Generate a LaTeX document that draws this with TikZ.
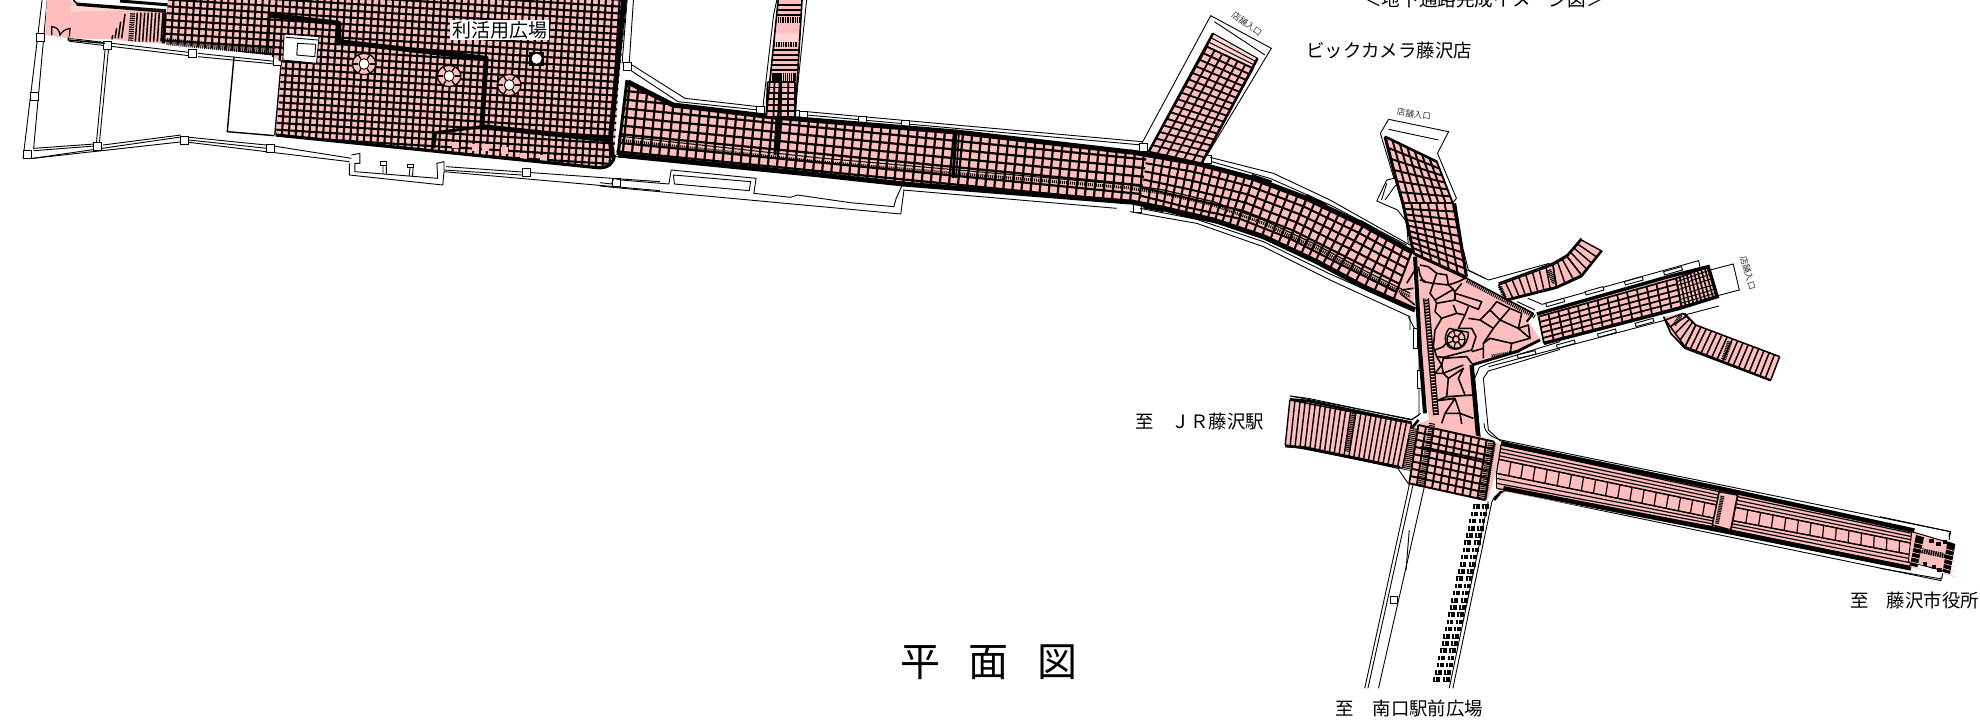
\documentclass[tikz,border=0pt]{standalone}
\usepackage{fontspec}
\usetikzlibrary{calc}
\newfontfamily\jp{Noto Sans CJK JP}
\definecolor{pk}{HTML}{FFBEBE}
\definecolor{pkl}{HTML}{FFD6D6}
\tikzset{
 wall/.style={draw=black,line width=0.9pt,line join=miter},
 heavy/.style={draw=black,line width=5pt,line join=round},
 stone/.style={draw=black,line width=1.55pt,line join=round},
 za/.style={shift={(0,0)},x=0.42088pt,y=-0.33333pt},
 zb/.style={shift={(600,0)},x=0.45918pt,y=-0.33333pt},
 zc/.style={shift={(1260,90)},x=0.35714pt,y=-0.33333pt},
 zd/.style={shift={(1260,390)},x=0.45918pt,y=-0.33333pt},
 ze/.style={shift={(1400,250)},x=0.33333pt,y=-0.33333pt},
 zf/.style={shift={(1880,510)},x=0.33333pt,y=-0.33333pt},
 zg/.style={shift={(1130,130)},x=0.33333pt,y=-0.33333pt},
 zh/.style={shift={(30,0)},x=0.33333pt,y=-0.33333pt},
 lab/.style={font=\jp\fontsize{18.4}{20}\selectfont,inner sep=0pt,anchor=center},
 small/.style={font=\jp\fontsize{8.6}{9}\selectfont,inner sep=0pt,text=black!80},
}
\def\qstart{0}
\newcommand\qgrid[7]{%
 \foreach \qi in {\qstart,...,#5}{\pgfmathsetmacro\qt{\qi/#5}\draw[line width=#7] ($(#1)!\qt!(#2)$) -- ($(#4)!\qt!(#3)$);}%
 \foreach \qj in {0,...,#6}{\pgfmathsetmacro\qs{\qj/#6}\draw[line width=#7] ($(#1)!\qs!(#4)$) -- ($(#2)!\qs!(#3)$);}%
}
\newcommand\pil[1]{\draw[wall,fill=white] ($(#1)+(-4pt,-4pt)$) rectangle ($(#1)+(4pt,4pt)$);}
\begin{document}
\begin{tikzpicture}[x=1pt,y=-1pt]
\useasboundingbox (0,0) rectangle (1980,720);
% ---------- left rooms, plaza walls
\begin{scope}[za]
 \draw[wall] (100,0)--(55,472)--(78,475)--(435,410)--(640,436)--(835,475);
 \draw[wall] (112,0)--(80,445)--(225,432);
 \draw[wall] (80,452)--(225,438) (245,435)--(430,405) (448,420)--(635,445);
 \draw[wall] (78,475)--(435,425)--(830,485);
 \draw[wall] (250,145)--(229,430) (258,145)--(236,430);
 \draw[wall,line width=1.4pt] (556,170)--(540,395)--(652,407);
 \draw[wall,line width=1.4pt] (668,190)--(653,405);
 \draw[wall] (165,115)--(455,158) (165,124)--(455,168) (470,160)--(660,185) (470,170)--(660,193);
 \draw[wall] (835,465)--(855,460)--(855,490)--(843,490)--(843,515)--(1040,535)--(1038,490)--(1055,485)--(1055,510)--(1240,525);
 \draw[wall] (830,490)--(830,525)--(1052,555)--(1055,515)--(1568,572);
 \draw[wall] (1060,500)--(1568,545);
 \draw[wall] (910,488)--(910,522) (918,488)--(918,522) (975,495)--(972,528) (982,495)--(980,528);
 \draw[wall,fill=white] (905,485) rectangle (918,495) (968,492) rectangle (982,502);
 \draw[wall] (1505,0)--(1495,190) (1490,0)--(1478,190);
 \pil{95,112}\pil{82,290}\pil{65,462}\pil{255,136}\pil{458,160}\pil{660,184}\pil{232,440}\pil{438,420}\pil{642,445}\pil{1250,518}\pil{1465,548}
\end{scope}
% ---------- corridor walls
\begin{scope}[zb]
 \draw[wall] (70,195)--(185,295)--(345,320) (60,205)--(170,305)--(345,330);
 \draw[wall] (450,335)--(1180,425) (450,345)--(1180,435);
 \draw[wall] (35,470)--(480,520) (520,530)--(1125,600);
 \draw[wall] (660,570)--(1125,625);
 \draw[wall] (155,510)--(150,552)--(45,540)--(30,535)--(25,552)--(0,548);
 \draw[wall] (155,510)--(340,535)--(335,580)--(415,592)--(430,585)--(545,608)--(640,620)--(645,595)--(660,550);
 \draw[wall] (160,525)--(328,545)--(325,572)--(162,552)--cycle;
 \draw[wall] (0,558)--(50,565)--(655,642)--(662,570);
 % north stub
 \draw[wall] (385,0)--(378,45)--(355,320) (450,0)--(425,330);
 % store branch walls
 \draw[wall] (1180,430)--(1330,47)--(1462,145)--(1320,470);
 \draw[wall] (1338,65)--(1448,165);
 \pil{60,200}\pil{350,332}\pil{426,342}\pil{442,345}\pil{572,361}\pil{665,373}\pil{1183,441}\pil{1322,478}\pil{1170,625}
\end{scope}
% ---------- curved walls
\begin{scope}[zg]
 \draw[wall] (240,82)--(430,130)--(600,210)--(840,345);
 \draw[wall] (245,95)--(420,145)--(600,225)--(830,345);
 \draw[wall] (0,245)--(200,280)--(400,350)--(600,450)--(840,560)--(840,600);
 \draw[wall] (30,235)--(200,268)--(400,335)--(600,432)--(855,545);
\end{scope}
% ---------- right walls
\begin{scope}[zc]
 \draw[wall] (445,700)--(445,975)--(425,988)--(85,918);
 \draw[wall] (415,680)--(435,720)--(445,720);
 \draw[wall,fill=white] (430,715) rectangle (440,775) (442,840) rectangle (452,895);
 \draw[wall] (360,88)--(528,125)--(497,190)--(550,325)--(540,338);
 \draw[wall] (360,88)--(337,130)--(375,265)--(355,270)--(327,333)--(385,360)--(410,395)--(415,460);
 \draw[wall] (360,118)--(500,150);
 \draw[wall] (355,280)--(340,330) (350,330)--(380,285);
 \draw[wall] (580,540)--(640,570)--(810,520);
 \draw[wall] (750,625)--(790,643)--(1228,512)--(1232,530);
 \draw[wall] (1260,540)--(1325,522)--(1342,600)--(1278,618);
 \draw[wall] (720,635)--(770,660);
 \draw[wall] (640,830)--(1285,648);
 \draw[wall] (600,825)--(640,812) ;
 \draw[wall] (1135,690)--(1160,740)--(1195,775) (1190,670)--(1225,710)--(1455,800);
\end{scope}
\begin{scope}[ze]
 \draw[wall] (480,275)--(360,312)--(262,342)--(238,352)--(224,385)--(240,560)--(272,592)--(480,645);
 \draw[wall] (480,298)--(360,335)--(265,363)--(250,385)--(265,540)--(300,572)--(480,622);
 \draw[wall] (190,0)--(205,60)--(255,85);
\end{scope}
% ---------- pink entry
\begin{scope}[zh]
 \fill[pk] (50,0)--(45,105)--(115,115)--(250,118)--(300,125)--(405,132)--(410,35)--(135,12)--(120,0)--cycle;
 \fill[pkl] (122,15)--(300,30)--(122,35)--cycle;
 \draw[line width=1.2pt] (65,105)--(65,80) .. controls (80,80) and (88,90) .. (90,105) .. controls (95,95) and (105,88) .. (120,85)--(118,110);
 \draw[line width=1.5pt] (285,42)--(275,115) (272,65)--(265,115) (260,85)--(255,115) (248,105)--(246,118);
 \draw[line width=5pt,dash pattern=on 1.2pt off 1pt] (308,40)--(302,122);
 \foreach \k in {0,...,7}{\draw[line width=1.5pt] ({322+\k*11},38)--({316+\k*11},125);}
 \draw[line width=1.6pt] (130,0)--(140,10)--(405,30)--(405,38) (140,15)--(405,36);
 \draw[line width=3pt] (270,3)--(420,15);
 \draw[line width=1.4pt] (115,112)--(115,120)--(225,130);
\end{scope}
% ---------- plaza
\begin{scope}
 \fill[pk] (168,0)--(627,0)--(619,80)--(614,157)..controls(614,165)and(608,168)..(602,168)--(276,135)--(282,62)--(269,55)--(164,43)--cycle;
 \clip (168,0)--(627,0)--(619,80)--(614,157)..controls(614,165)and(608,168)..(602,168)--(276,135)--(282,62)--(269,55)--(164,43)--cycle;
 \begin{scope}[rotate around={-3.5:(400,0)}]
  \foreach \i in {-35,...,40}{\draw[line width=2.1pt] ({400+\i*6.85},-40)--({400+\i*6.85},220);}
  \foreach \j in {-5,...,32}{\draw[line width=2.1pt] (100,{\j*6.85})--(680,{\j*6.85});}
 \end{scope}
\end{scope}
\begin{scope}[zh]
 \draw[line width=7pt,dash pattern=on 1pt off 1pt] (410,125)--(725,155);
 \draw[line width=3pt] (405,38)--(400,130);
\end{scope}
\begin{scope}[za]
 \foreach \xx/\yy in {1075/425,1122/432,1146/433,1190/442,1236/458,1283/465}{\fill[pk] (\xx,\yy) rectangle +(16,20);}
 \draw[heavy] (640,45)--(805,70)--(805,125)--(1155,175)--(1145,380)--(1450,420);
 \draw[heavy,line width=3pt] (640,45)--(635,150);
 \draw[heavy,line width=3pt] (1035,398)--(1030,445);
 \draw[heavy,line width=3pt] (1035,398)--(1145,380);
 \draw[heavy] (1482,0)--(1450,420)--(1455,470);
 \draw[heavy,line width=3.2pt] (655,405)--(1420,503) .. controls (1445,505) and (1458,490) .. (1460,465);
 % column
 \fill[white] (675,102)--(758,110)--(752,190)--(672,180)--cycle;
 \draw[wall] (675,102)--(758,110)--(752,190)--(672,180)--cycle (707,130)--(750,133)--(748,170)--(705,165)--cycle (680,112)--(755,120);
 % tree pits
 \foreach \cx/\cy in {865/192,1067/228,1210/255}{
  \fill[pk,draw=black,line width=1.3pt] (\cx,\cy) ellipse [x radius=28,y radius=32];
  \foreach \ang in {0,60,...,300}{\draw[line width=1.3pt] ($(\cx,\cy)+({14*cos(\ang)},{16*sin(\ang)})$)--($(\cx,\cy)+({28*cos(\ang)},{32*sin(\ang)})$);}
  \fill[white,draw=black,line width=0.9pt] (\cx,\cy) ellipse [x radius=12,y radius=16];
 }
 \fill[black] (1258,155) rectangle (1292,198);
 \fill[white] (1275,176) ellipse [x radius=12,y radius=15];
\end{scope}
% ---------- corridor
\fill[pk] (628,80)--(673,105)--(774,117)--(956,132)--(1147,155)--(1197,163.5)--(1253,178)--(1307,198)--(1363,225)--(1412,252)--(1415,312)--(1363,287)--(1287,247)--(1237,227)--(1185,216)--(1140,204)--(1119,200)--(903,183)--(820,173)--(616,155)--cycle;
\begin{scope}
 \clip (628,80)--(673,105)--(774,117)--(956,132)--(1147,155)--(1140,204)--(1119,200)--(903,183)--(820,173)--(616,155)--cycle;
 \begin{scope}[rotate around={-5.6:(628,100)}]
  \foreach \i in {-3,...,62}{\draw[line width=2.2pt] ({628+\i*9.1},0)--({628+\i*9.1},280);}
  \foreach \j in {-6,...,8}{\draw[line width=2.2pt] (600,{100+\j*8.7})--(1200,{100+\j*8.7});}
 \end{scope}
\end{scope}
\begin{scope}[zg]
 \begingroup\def\qstart{1}
 \qgrid{50,75}{200,100}{165,258}{30,222}{6}{6}{2pt}
 \endgroup
 \qgrid{200,100}{370,145}{320,290}{165,258}{7}{6}{2pt}
 \qgrid{370,145}{530,205}{470,350}{320,290}{6}{6}{2pt}
 \qgrid{530,205}{700,285}{620,428}{470,350}{7}{6}{2pt}
 \qgrid{700,285}{845,365}{790,510}{620,428}{6}{6}{2pt}
 \draw[heavy] (0,65)--(200,100)--(370,145)--(530,205)--(700,285)--(848,367);
 \draw[heavy] (0,215)--(100,235)--(250,270)--(400,320)--(560,395)--(700,470)--(855,540);
 \draw[line width=3pt,dash pattern=on 1pt off 1pt] (0,175)--(100,190)--(250,225)--(400,280)--(560,355)--(700,430)--(840,500);
 \draw[line width=1.2pt] (0,165)--(100,180)--(250,215)--(400,270)--(560,345)--(700,420)--(840,490);
 \draw[line width=2.2pt] (365,135)--(425,155) (530,195)--(590,225) (690,272)--(740,300);
 \draw[line width=2.2pt] (40,232)--(100,243) (180,258)--(240,272) (315,292)--(378,316) (605,420)--(665,452);
\end{scope}
\draw[heavy] (628,82)--(673,105)--(774,117)--(956,132)--(1130,152);
\draw[heavy] (618,155)--(820,175)--(903,184)--(1130,202);
\draw[line width=3pt,dash pattern=on 1pt off 1pt] (618,140)--(820,162)--(1130,188);
\draw[line width=1pt] (618,136)--(820,158)--(1130,185);
\draw[line width=3pt] (627,80)--(618,155) (777,117)--(775,155) (956,132)--(953,178);
\draw[line width=1.6pt] (780,117)--(778,155) (959,132)--(956,178);
% north stub
\begin{scope}[zb]
 \fill[pk] (388,0)--(440,0)--(425,350)--(362,350)--cycle;
 \fill[pkl] (380,100)--(432,100)--(430,130)--(378,125)--cycle;
 \foreach \yy in {15,30,45,150,165,180,195,210}{\draw[line width=1.4pt] ({388-\yy*0.07},\yy)--({440-\yy*0.045},\yy);}
 \draw[line width=5pt,dash pattern=on 1pt off .7pt] (388,60)--(436,60) (376,135)--(430,135);
 \draw[line width=8pt,dash pattern=on 1.5pt off .6pt] (370,232)--(425,232);
 \qgrid{365,245}{425,245}{425,350}{362,350}{4}{6}{1.7pt}
 \draw[line width=2.4pt] (392,245)--(385,450);
 \draw[line width=1.6pt] (388,0)--(362,350) (440,0)--(425,350);
\end{scope}
% store branch
\begin{scope}[zb]
 \fill[pk] (1335,100)--(1432,175)--(1310,490)--(1195,455)--cycle;
 \fill[pkl] (1335,105)--(1430,175)--(1422,200)--(1322,138)--cycle;
 \qgrid{1322,140}{1422,205}{1310,490}{1195,455}{6}{16}{1.8pt}
 \qgrid{1335,100}{1432,175}{1422,205}{1322,140}{1}{3}{1pt}
 \draw[line width=2.4pt] (1335,100)--(1195,455) (1432,175)--(1310,490);
\end{scope}
% Y plaza
\begin{scope}[ze]
 \fill[pk] (45,18)--(200,85)--(400,190)--(385,215)--(422,268)--(350,305)--(215,345)--(240,585)--(90,540)--(62,300)--cycle;
 \draw[stone] (55,50)--(60,75)--(70,95)--(100,100)--(110,70)--(85,50)--(60,45);
 \draw[stone] (100,100)--(145,105)--(140,75)--(110,70);
 \draw[stone] (145,105)--(175,95)--(195,85);
 \draw[stone] (100,100)--(90,130)--(105,150)--(160,118)--(145,105);
 \draw[stone] (60,90)--(75,92);
 \draw[stone] (160,118)--(165,130)--(245,155)--(235,178)--(165,150)--(165,130);
 \draw[stone] (185,100)--(165,125);
 \draw[stone] (165,150)--(110,160)--(105,150);
 \draw[stone] (110,160)--(105,185)--(125,205)--(105,240)--(100,290)--(110,320);
 \draw[stone] (125,205)--(170,190)--(195,195)--(205,170);
 \draw[stone] (160,165)--(170,190);
 \draw[stone] (195,195)--(175,235)--(215,235)--(228,260)--(215,300)--(130,322)--(110,320);
 \draw[stone] (205,205)--(240,210)--(270,180)--(290,155)--(330,175)--(365,190);
 \draw[stone] (270,180)--(300,210)--(330,175) (240,210)--(280,235)--(300,210)--(355,235)--(365,190);
 \draw[stone] (280,235)--(250,280) (355,235)--(385,225)--(390,265)--(355,235);
 \draw[stone] (390,265)--(335,280)--(270,265)--(250,280)--(250,325);
 \draw[stone] (335,280)--(330,310) (250,295)--(215,305);
 \draw[stone] (105,300)--(130,290)--(145,270);
 \draw[stone] (130,325)--(200,320)--(215,340);
 \draw[stone] (110,320)--(125,345)--(105,370)--(130,370)--(145,385)--(140,440)--(115,450);
 \draw[stone] (130,325)--(125,345)--(130,370)--(190,345);
 \draw[stone] (145,385)--(190,355)--(175,385)--(195,435);
 \draw[stone] (140,440)--(218,435);
 \draw[line width=1.8pt] (110,452)--(165,445);
 \draw[stone] (165,445)--(135,490)--(180,490)--(220,505) (135,490)--(125,520) (165,445)--(180,490)--(185,522);
 % medallion
 \draw[line width=1.4pt,fill=pk] (147,235) -- (205,247) .. controls (205,290) and (170,310) .. (145,290) .. controls (130,275) and (135,250) .. (147,235);
 \draw[line width=1.4pt] (168,268) circle [radius=10];
 \draw[line width=1.4pt] (168,268) circle [radius=27];
 \foreach \ang in {0,51,...,310}{\draw[line width=1.2pt] ($(168,268)+({10*cos(\ang)},{10*sin(\ang)})$)--($(168,268)+({27*cos(\ang)},{27*sin(\ang)})$);}
 % road lines
 \draw[line width=4pt] (45,20)--(60,300)--(75,490);
 \draw[line width=6pt] (78,145)--(108,495);
 \draw[line width=3.6pt,pk,dash pattern=on 1.2pt off 1.8pt] (78,145)--(108,495);
 \draw[line width=4.4pt] (215,345)--(235,565);
 \draw[line width=2.8pt] (420,270)--(350,305)--(215,345);
 \draw[line width=1.5pt] (45,15)--(200,85)--(400,190);
 \draw[line width=4pt,dash pattern=on 1pt off 1pt] (200,92)--(405,200);
 \draw[line width=3pt,dash pattern=on 1pt off 1pt] (275,318)--(360,303);
 \draw[line width=2pt] (380,215)--(400,190);
 \draw[stone] (0,130)--(45,165) (20,100)--(45,60) (5,120)--(40,115);
\end{scope}
% store 2
\begin{scope}[zc]
 \fill[pk] (350,140)--(495,215)--(540,340)--(578,560)--(430,490)--(400,340)--(380,265)--cycle;
 \qgrid{350,140}{495,215}{540,340}{400,340}{7}{6}{1.9pt}
 \qgrid{400,340}{540,340}{578,560}{430,490}{6}{9}{1.9pt}
 \draw[line width=3pt] (350,140)--(380,265)--(400,340)--(430,490) (545,340)--(578,560);
 \draw[line width=2.4pt] (350,140)--(495,215) (430,490)--(578,565);
 % curved arm
 \fill[pk] (668,585)--(820,525)--(860,500)--(900,450)--(955,482)--(900,555)--(830,590)--(690,628)--cycle;
 \qgrid{668,585}{820,525}{830,590}{690,628}{8}{1}{1.4pt}
 \qgrid{820,525}{860,500}{900,555}{830,590}{3}{1}{1.4pt}
 \qgrid{860,500}{900,450}{955,482}{900,555}{4}{1}{1.4pt}
 \draw[line width=5pt,dash pattern=on 1pt off .8pt] (808,540)--(825,580);
 \draw[line width=4pt,dash pattern=on 1pt off .8pt] (672,590)--(685,622);
 \draw[line width=1.8pt] (668,580)--(820,520)--(860,495)--(900,445) (690,632)--(830,594)--(900,560)--(958,482);
 % right arm
 \fill[pk] (775,670)--(1150,555)--(1255,530)--(1280,620)--(1175,655)--(795,760)--cycle;
 \qgrid{780,680}{1165,565}{1180,650}{795,760}{14}{5}{1.7pt}
 \foreach \a/\b in {800/640,910/605,1020/575,1130/545}{\draw[wall,fill=white] (\a,\b)--++(50,-15)--++(3,10)--++(-50,15)--cycle;}
 \foreach \a/\b in {830/765,945/732,1050/700}{\draw[wall,fill=white] (\a,\b)--++(50,-15)--++(3,10)--++(-50,15)--cycle;}
 \draw[wall,fill=white] (720,795)--(770,782)--(773,792)--(723,805)--cycle;
 \qgrid{1165,565}{1255,530}{1280,620}{1180,650}{9}{1}{1.6pt}
 \foreach \ss in {0.12,0.25,0.4,0.6,0.75,0.88}{\draw[line width=.9pt] ($(1165,565)!\ss!(1180,650)$)--($(1255,530)!\ss!(1280,620)$);}
 \draw[line width=3.4pt] (775,672)--(1150,558)--(1255,530)--(1280,620)--(1175,655)--(795,760);
 % lower arm
 \fill[pk] (1130,680)--(1185,670)--(1220,705)--(1455,800)--(1430,870)--(1190,770)--(1150,730)--cycle;
 \qgrid{1220,705}{1455,800}{1430,870}{1190,770}{16}{1}{1.5pt}
 \qgrid{1185,670}{1220,705}{1190,770}{1135,690}{4}{1}{1.5pt}
 \draw[line width=5pt,dash pattern=on 1pt off .8pt] (1315,755)--(1298,810);
 \draw[line width=4pt,dash pattern=on 1pt off .8pt] (1178,675)--(1160,705);
 \draw[line width=1.6pt] (1130,680)--(1150,730)--(1190,775)--(1430,872);
\end{scope}
% JR stub, intersection, east arm, south road
\begin{scope}[zd]
 \draw[wall] (65,18)--(105,25)--(330,90)--(350,70);
 \draw[wall] (55,170)--(100,175)--(300,235)--(325,285);
 \fill[pk] (65,28)--(105,35)--(330,100)--(330,240)--(100,175)--(55,165)--cycle;
 \qgrid{65,30}{330,100}{310,235}{55,165}{24}{1}{1.4pt}
 \draw[line width=5pt,dash pattern=on 1pt off .8pt] (205,70)--(190,185);
 \draw[line width=2.6pt] (65,28)--(105,33)--(330,98) (55,168)--(100,173)--(305,232);
 % south road
 \draw[wall] (325,285)--(228,895) (333,285)--(235,895) (358,290)--(258,895);
 \draw[wall] (325,420)--(318,540);
 \draw[wall] (505,335)--(420,895) (497,335)--(412,895);
 \draw[wall,fill=white] (285,620) rectangle (300,640);
 \foreach \i in {0,...,24}{
  \pgfmathsetmacro\bx{472-\i*3.55}\pgfmathsetmacro\by{350+\i*21.6}
  \fill (\bx-9,\by-7) rectangle (\bx+6,\by+7);
  \fill (\bx+11,\by-7) rectangle (\bx+26,\by+7);
  \draw[white,line width=.6pt] (\bx-4,\by-6)--(\bx-4,\by+6) (\bx+16,\by-6)--(\bx+16,\by+6);
 }
 % intersection
 \fill[pk] (365,90)--(490,145)--(530,165)--(495,335)--(330,285)--(325,115)--cycle;
 \qgrid{345,105}{510,155}{490,330}{325,280}{10}{8}{1.9pt}
 \draw[line width=8pt,dash pattern=on 1pt off .9pt] (335,115)--(318,240);
 \draw[line width=8pt,dash pattern=on 1pt off .9pt] (505,160)--(485,325);
 \draw[line width=6pt,dash pattern=on 1pt off 1pt] (375,100)--(350,290);
 \draw[line width=1.8pt] (350,170)--(490,210);
 \draw[line width=2.6pt] (345,90)--(330,115) (510,330)--(525,305)--(545,295);
 % east arm
 \draw[wall] (488,100) .. controls (488,125) and (500,140) .. (525,150) -- (1503,425) -- (1500,440);
 \draw[wall] (505,335) .. controls (510,315) and (525,300) .. (545,305) -- (1483,572) -- (1483,560);
 \fill[pk] (525,160)--(1420,425)--(1415,535)--(515,300)--cycle;
 \qgrid{525,165}{1000,305}{995,345}{520,208}{1}{4}{1.15pt}
 \qgrid{515,250}{990,385}{985,410}{515,295}{1}{3}{1.15pt}
 \qgrid{1040,320}{1420,430}{1420,460}{1035,352}{1}{3}{1.15pt}
 \qgrid{1030,392}{1420,495}{1415,530}{1025,420}{1}{3}{1.15pt}
 \qgrid{520,208}{995,345}{990,385}{515,250}{18}{1}{1.2pt}
 \qgrid{1035,352}{1420,460}{1420,495}{1030,392}{14}{1}{1.2pt}
 \draw[line width=1.5pt,fill=pk] (1000,305)--(1040,315)--(1025,420)--(985,405)--cycle;
 \draw[line width=4pt,dash pattern=on 1pt off .7pt] (1007,318)--(995,402);
 \draw[line width=4.6pt] (525,160)--(1000,295)--(1425,422) (530,295)--(1000,420)--(1418,535);
\end{scope}
\begin{scope}[zf]
 \fill[pk] (95,65)--(215,100)--(200,185)--(85,155)--cycle;
 \draw[wall] (0,20)--(212,65)--(207,90) (0,175)--(185,207)--(188,190);
 \draw[line width=1pt] (95,65)--(215,100)--(200,185)--(85,155)--cycle;
 \fill (108,75)--(132,82)--(112,172)--(90,166)--cycle;
 \fill (202,95)--(226,102)--(210,192)--(188,186)--cycle;
 \draw[line width=5pt,dash pattern=on 1.5pt off .8pt] (125,122)--(198,138);
 \foreach \px/\py in {148/87,168/95,188/90,128/155,155/165,172/175}{\fill (\px,\py) rectangle +(14,12);}
 \foreach \py in {85,100,115,130,145,160}{\draw[pk,line width=.7pt] (90,\py+10)--(132,\py+20) (190,\py+30)--(226,\py+40);}
\end{scope}
% labels
\node[fill=white,inner xsep=2pt,inner ysep=1.5pt,font=\jp\fontsize{19}{20}\selectfont] (plaza) at (499.5,30) {利活用広場};
\node[lab] (bic) at (1389,50.5) {ビックカメラ藤沢店};
\node[lab] (jr) at (1199.5,421.5) {至　ＪＲ藤沢駅};
\node[lab] (city) at (1914.5,600) {至　藤沢市役所};
\node[lab] (south) at (1409.5,708) {至　南口駅前広場};
\node[lab,font=\jp\fontsize{18.6}{20}\selectfont] (top) at (1484,-1) {＜地下通路完成イメージ図＞};
\node[lab,font=\jp\fontsize{40}{42}\selectfont] (title) at (989,662) {平\hspace{28.5pt}面\hspace{28.5pt}図};
\node[small,rotate=-36] (e1) at (1247,24) {店舗入口};
\node[small,rotate=-8] (e2) at (1414,114) {店舗入口};
\node[small,rotate=-74] (e3) at (1748,273) {店舗入口};
\end{tikzpicture}
\end{document}
